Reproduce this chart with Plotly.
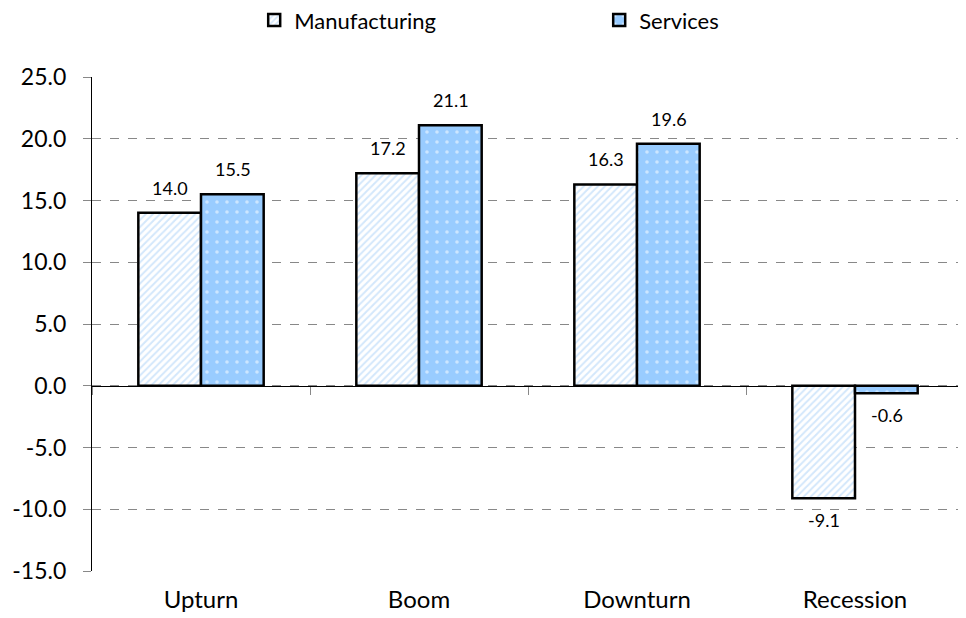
import plotly.graph_objects as go

phases = ["Upturn", "Boom", "Downturn", "Recession"]
manufacturing = [14.0, 17.2, 16.3, -9.1]
services = [15.5, 21.1, 19.6, -0.6]
y_ticks = [25, 20, 15, 10, 5, 0, -5, -10, -15]

FONT = "Lato"
BAR_W_PX = 63

fig = go.Figure()
fig.add_trace(go.Bar(
    name="Manufacturing", x=phases, y=manufacturing,
    marker=dict(color="white", line=dict(color="black", width=2.5),
                pattern=dict(shape="/", fgcolor="#A8D0F8", bgcolor="white", size=5, solidity=0.4)),
))
fig.add_trace(go.Bar(
    name="Services", x=phases, y=services,
    marker=dict(color="#99CCFF", line=dict(color="black", width=2.5),
                pattern=dict(shape=".", fgcolor="white", bgcolor="#99CCFF", size=10, solidity=0.1)),
))

# value labels
annotations = []
for series, shift in [(manufacturing, -BAR_W_PX / 2), (services, BAR_W_PX / 2)]:
    for cat, v in zip(phases, series):
        annotations.append(dict(
            x=cat, y=v, xref="x", yref="y", text=f"{v:.1f}", showarrow=False,
            xshift=shift, yshift=25 if v >= 0 else -22,
            font=dict(family=FONT, size=18, color="black"),
        ))

# page body has an 8px margin, so the figure is sized to end at the window edge
fig.update_layout(
    width=958, height=610,
    margin=dict(l=84, r=2, t=69, b=47, autoexpand=False),
    paper_bgcolor="white", plot_bgcolor="white",
    barmode="group", bargap=0.425, bargroupgap=0,
    font=dict(family=FONT, color="black"),
    showlegend=True,
    legend=dict(orientation="h", x=0.186, xanchor="left", y=1.115, yanchor="middle",
                entrywidth=300, entrywidthmode="pixels",
                font=dict(family=FONT, size=22), itemwidth=30),
    annotations=annotations,
    xaxis=dict(showline=False, ticks="", showgrid=False, automargin=False,
               ticklabelstandoff=12, tickfont=dict(family=FONT, size=24)),
    xaxis2=dict(overlaying="x", anchor="free", position=0.375, matches="x",
                showline=True, linecolor="black", linewidth=1.2,
                ticks="outside", tickson="boundaries", ticklen=8, tickcolor="#888",
                showticklabels=False, showgrid=False),
    yaxis=dict(range=[-15, 25], tickvals=y_ticks,
               ticktext=[f"{t:.1f}" for t in y_ticks], automargin=False,
               showline=True, linecolor="black", linewidth=1.2,
               ticks="outside", ticklen=8, tickcolor="#888", ticklabelstandoff=12,
               showgrid=True, gridcolor="#888", griddash="dash", gridwidth=1,
               zeroline=False, tickfont=dict(family=FONT, size=23)),
)
# dummy trace so the zero-line axis gets drawn
fig.add_trace(go.Scatter(x=phases, y=[0] * len(phases), xaxis="x2", mode="none",
                         showlegend=False, hoverinfo="skip"))

fig.write_html("out.html")
